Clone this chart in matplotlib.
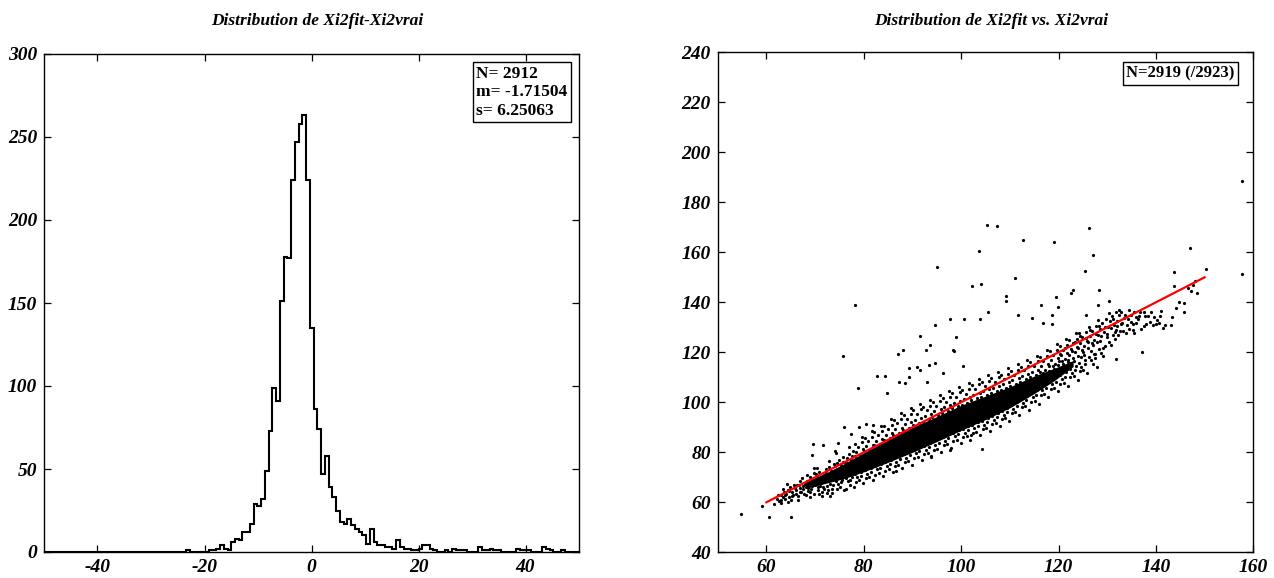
import matplotlib
matplotlib.use("Agg")
import matplotlib.pyplot as plt
import numpy as np

plt.rcParams.update({"font.family": "Liberation Serif", "font.weight": "bold",
                     "font.style": "italic", "axes.linewidth": 1.0, "axes.unicode_minus": False})

# ── données : histogramme Xi2fit - Xi2vrai (bins de 0.7 depuis -50) ───────────
BIN_LO, BIN_W = -50.0, 0.7
counts = [0] * 38 + [1] + [0] * 5 + [
    1, 1, 2, 4, 2, 1, 6, 8, 7, 12, 12, 17, 29, 28, 32, 49, 73, 99, 91,
    151, 178, 177, 224, 247, 258, 263, 224, 135, 86, 74, 47, 58, 39, 33, 25,
    18, 17, 20, 16, 14, 12, 10, 5, 14, 6, 4, 4, 3, 3, 2, 7, 3, 2, 2, 1, 1,
    2, 4, 4, 2, 1, 0, 0, 1, 0, 2, 1, 1, 1, 0, 0, 0, 3, 1, 1, 2, 1, 1, 0, 0,
    0, 0, 2, 1, 1, 1, 0, 0, 0, 3, 2, 1, 0, 0, 1, 0, 0, 0, 0]
stats_left = "N= 2912\nm= -1.71504\ns= 6.25063"

# ── données : Xi2fit vs Xi2vrai ───────────────────────────────────────────────
# zone saturée (nuage noir plein) : bords haut / bas
core_x = [68, 72, 76, 80, 85, 90, 95, 100, 105, 110, 115, 119, 123]
core_top = [68.5, 71.5, 75.5, 79.8, 85.0, 90.0, 94.3, 98.8, 102.5, 106.2, 110.5, 113.5, 116.7]
core_bot = [65.5, 67.5, 69.5, 72.2, 76.0, 80.0, 84.3, 88.8, 93.1, 97.8, 103.5, 108.5, 114.3]

cloud_pts = [
    (61.5, 59.3), (62.4, 62.8), (63.1, 60.9), (63.8, 63.0), (64.5, 60.2), (65.3, 62.6), (66.0, 63.5), (66.9, 64.3),
    (67.6, 65.2), (68.2, 63.0), (69.0, 64.2), (69.6, 69.4), (70.6, 66.3), (71.4, 62.5), (72.6, 64.8), (73.4, 63.6),
    (62.2, 61.4), (62.6, 60.6), (63.0, 63.1), (63.4, 62.0), (63.7, 64.2), (63.9, 61.2), (62.9, 59.7), (63.5, 65.3),
    (64.1, 63.3), (64.4, 65.0), (64.6, 62.1), (64.9, 66.2), (65.2, 64.0), (65.5, 63.0), (65.8, 65.6), (64.3, 67.3),
    (65.0, 61.0), (65.6, 67.0), (64.7, 64.6),
    (66.1, 64.8), (66.3, 67.1), (66.5, 62.6), (66.8, 65.7), (67.0, 68.4), (67.2, 64.0), (67.5, 66.6), (67.8, 63.2),
    (66.4, 61.0), (67.3, 69.6), (66.7, 66.8), (67.9, 67.5),
    (68.1, 66.1), (68.3, 68.6), (68.5, 64.5), (68.8, 67.4), (69.0, 70.1), (69.2, 65.3), (69.5, 68.2), (69.7, 63.4),
    (68.4, 70.9), (68.9, 62.3), (69.3, 66.7), (69.8, 71.8), (68.6, 65.9), (69.9, 67.0),
    (70.1, 67.5), (70.3, 70.2), (70.5, 65.1), (70.7, 68.9), (70.9, 72.3), (71.1, 66.4), (71.3, 69.7), (71.5, 64.0),
    (71.6, 66.0), (71.8, 71.0), (70.4, 73.9), (70.8, 63.2), (71.2, 67.9), (71.7, 68.4), (70.2, 71.5), (71.9, 65.3),
    (72.1, 68.8), (72.3, 71.9), (72.5, 66.4), (72.7, 70.2), (72.9, 74.0), (73.1, 67.5), (73.3, 72.6), (73.5, 65.2),
    (73.7, 69.6), (73.9, 75.5), (72.4, 63.9), (72.8, 76.4), (73.2, 70.9), (73.6, 67.0), (72.2, 73.4), (73.8, 71.7),
    (73.0, 62.4),
    (74.1, 74.4), (74.3, 68.7), (74.5, 75.8), (74.7, 67.2), (74.9, 77.1), (75.1, 66.3), (75.3, 74.9), (75.5, 69.0),
    (75.7, 78.3), (75.9, 64.8), (74.4, 72.5), (74.8, 70.8), (75.2, 72.9), (75.6, 71.2), (74.2, 79.6), (75.4, 68.2),
    (74.6, 65.5), (75.8, 76.0),
    (76.1, 76.3), (76.3, 69.8), (76.5, 77.9), (76.7, 68.4), (76.9, 79.5), (77.1, 67.1), (77.3, 76.8), (77.5, 70.2),
    (77.7, 80.6), (77.9, 66.0), (76.2, 74.0), (76.8, 72.1), (77.4, 74.5), (77.0, 82.3), (76.4, 65.4), (77.6, 78.4),
    (76.6, 75.9), (77.2, 69.0),
    (78.1, 78.4), (78.3, 71.3), (78.5, 80.2), (78.7, 70.0), (78.9, 82.1), (79.1, 68.9), (79.3, 79.1), (79.5, 72.0),
    (79.7, 84.0), (79.9, 67.6), (78.2, 83.3), (78.6, 73.5), (79.0, 77.5), (79.4, 70.6), (79.8, 81.3), (78.4, 68.2),
    (79.6, 86.2), (79.2, 74.3),
    (80.1, 80.5), (80.3, 72.8), (80.5, 82.4), (80.7, 71.4), (80.9, 84.5), (81.1, 70.2), (81.3, 81.1), (81.5, 73.6),
    (81.7, 86.3), (81.9, 69.1), (80.2, 85.9), (80.6, 74.9), (81.0, 79.0), (81.4, 72.2), (81.8, 83.0), (80.4, 69.8),
    (81.6, 88.4), (81.2, 76.5), (80.8, 78.4),
    (82.1, 82.8), (82.3, 74.5), (82.5, 84.6), (82.7, 73.2), (82.9, 86.9), (83.1, 71.8), (83.3, 83.4), (83.5, 75.4),
    (83.7, 88.7), (83.9, 70.6), (82.2, 88.3), (82.6, 76.6), (83.0, 81.4), (83.4, 73.9), (83.8, 85.5), (82.4, 71.0),
    (83.6, 90.6), (83.2, 78.0), (82.8, 80.1), (83.95, 82.5),
    (84.1, 85.1), (84.3, 76.0), (84.5, 87.0), (84.7, 74.6), (84.9, 89.2), (85.1, 73.2), (85.3, 85.8), (85.5, 77.1),
    (85.7, 91.1), (85.9, 72.0), (84.2, 90.5), (84.6, 78.3), (85.0, 83.5), (85.4, 75.5), (85.8, 87.6), (84.4, 72.7),
    (85.6, 93.4), (85.2, 79.6), (84.8, 81.9), (85.95, 84.9),
    (86.1, 87.1), (86.3, 77.8), (86.5, 89.4), (86.7, 76.3), (86.9, 91.6), (87.1, 74.9), (87.3, 87.9), (87.5, 78.9),
    (87.7, 93.3), (87.9, 73.6), (86.2, 92.8), (86.6, 80.1), (87.0, 85.4), (87.4, 77.2), (87.8, 89.9), (86.4, 74.4),
    (87.6, 95.8), (87.2, 81.6), (86.8, 84.0), (87.95, 86.8),
    (88.1, 89.0), (88.3, 79.3), (88.5, 91.3), (88.7, 77.8), (88.9, 93.5), (89.1, 76.4), (89.3, 89.8), (89.5, 80.5),
    (89.7, 95.4), (89.9, 75.1), (88.2, 94.9), (88.6, 81.7), (89.0, 87.3), (89.4, 78.8), (89.8, 92.0), (88.4, 76.0),
    (89.6, 97.7), (89.2, 83.4), (88.8, 85.6), (89.95, 88.6),
    (90.1, 90.8), (90.3, 81.1), (90.5, 93.1), (90.7, 79.6), (90.9, 95.3), (91.1, 78.2), (91.3, 91.7), (91.5, 82.3),
    (91.7, 97.2), (91.9, 76.9), (90.2, 96.8), (90.6, 83.5), (91.0, 89.1), (91.4, 80.6), (91.8, 93.9), (90.4, 77.8),
    (91.6, 99.5), (91.2, 85.2), (90.8, 87.4), (91.95, 90.4),
    (92.1, 92.3), (92.3, 82.6), (92.5, 94.6), (92.7, 81.1), (92.9, 96.8), (93.1, 79.7), (93.3, 93.2), (93.5, 83.8),
    (93.7, 98.7), (93.9, 78.4), (92.2, 98.3), (92.6, 85.0), (93.0, 90.6), (93.4, 82.1), (93.8, 95.4), (92.4, 79.3),
    (93.6, 101.0), (93.2, 86.7), (92.8, 88.9), (93.95, 91.9),
    (94.1, 94.1), (94.3, 84.4), (94.5, 96.4), (94.7, 82.9), (94.9, 98.6), (95.1, 81.5), (95.3, 95.0), (95.5, 85.6),
    (95.7, 100.5), (95.9, 80.2), (94.2, 100.1), (94.6, 86.8), (95.0, 92.4), (95.4, 83.9), (95.8, 97.2), (94.4, 81.1),
    (95.6, 102.8), (95.2, 88.5), (94.8, 90.7), (95.95, 93.7),
    (96.1, 95.8), (96.3, 86.1), (96.5, 98.1), (96.7, 84.6), (96.9, 100.3), (97.1, 83.2), (97.3, 96.7), (97.5, 87.3),
    (97.7, 102.2), (97.9, 81.9), (96.2, 101.8), (96.6, 88.5), (97.0, 94.1), (97.4, 85.6), (97.8, 98.9), (96.4, 82.8),
    (97.6, 104.5), (97.2, 90.2), (96.8, 92.4), (97.95, 95.4),
    (98.1, 97.6), (98.3, 87.9), (98.5, 99.9), (98.7, 86.4), (98.9, 102.1), (99.1, 85.0), (99.3, 98.5), (99.5, 89.1),
    (99.7, 104.0), (99.9, 83.7), (98.2, 103.6), (98.6, 90.3), (99.0, 95.9), (99.4, 87.4), (99.8, 100.7), (98.4, 84.6),
    (99.6, 106.3), (99.2, 92.0), (98.8, 94.2), (99.95, 97.2),
    (100.1, 99.0), (100.3, 89.3), (100.5, 101.3), (100.7, 87.8), (100.9, 103.5), (101.1, 86.4), (101.3, 99.9),
    (101.5, 90.5), (101.7, 105.4), (101.9, 85.1), (100.2, 105.0), (100.6, 91.7), (101.0, 97.3), (101.4, 88.8),
    (101.8, 102.1), (100.4, 86.0), (101.6, 107.7), (101.2, 93.4), (100.8, 95.6), (101.95, 98.6),
    (102.1, 100.8), (102.3, 91.1), (102.5, 103.1), (102.7, 89.6), (102.9, 105.3), (103.1, 88.2), (103.3, 101.7),
    (103.5, 92.3), (103.7, 107.2), (103.9, 86.9), (102.2, 106.8), (102.6, 93.5), (103.0, 99.1), (103.4, 90.6),
    (103.8, 103.9), (102.4, 87.8), (103.6, 109.5), (103.2, 95.2), (102.8, 97.4), (103.95, 100.4),
    (104.1, 102.1), (104.3, 92.6), (104.5, 104.4), (104.7, 91.1), (104.9, 106.6), (105.1, 89.7), (105.3, 103.0),
    (105.5, 93.8), (105.7, 108.5), (105.9, 88.4), (104.2, 108.1), (104.6, 95.0), (105.0, 100.6), (105.4, 92.1),
    (105.8, 105.2), (104.4, 89.3), (105.6, 110.8), (105.2, 96.7), (104.8, 98.9), (105.95, 101.9),
    (106.1, 103.6), (106.3, 94.6), (106.5, 105.9), (106.7, 93.1), (106.9, 108.1), (107.1, 91.7), (107.3, 104.5),
    (107.5, 95.8), (107.7, 110.0), (107.9, 90.4), (106.2, 109.6), (106.6, 97.0), (107.0, 102.3), (107.4, 94.1),
    (107.8, 106.7), (106.4, 91.3), (107.6, 112.3), (107.2, 98.7), (106.8, 100.6), (107.95, 103.5),
    (108.1, 105.0), (108.3, 96.6), (108.5, 107.3), (108.7, 95.1), (108.9, 109.5), (109.1, 93.7), (109.3, 105.9),
    (109.5, 97.8), (109.7, 111.4), (109.9, 92.4), (108.2, 111.0), (108.6, 99.0), (109.0, 103.7), (109.4, 96.1),
    (109.8, 108.1), (108.4, 93.3), (109.6, 113.7), (109.2, 100.7), (108.8, 102.2), (109.95, 104.8),
    (110.1, 106.6), (110.3, 99.0), (110.5, 108.9), (110.7, 97.5), (110.9, 111.1), (111.1, 96.1), (111.3, 107.5),
    (111.5, 100.2), (111.7, 113.0), (111.9, 94.8), (110.2, 112.6), (110.6, 101.4), (111.0, 105.3), (111.4, 98.5),
    (111.8, 109.7), (110.4, 95.7), (111.6, 115.3), (111.2, 102.7), (110.8, 104.1), (111.95, 106.5),
    (112.1, 108.3), (112.3, 101.3), (112.5, 110.6), (112.7, 99.8), (112.9, 112.8), (113.1, 98.4), (113.3, 109.2),
    (113.5, 102.5), (113.7, 114.7), (113.9, 97.1), (112.2, 114.3), (112.6, 103.7), (113.0, 107.0), (113.4, 100.8),
    (113.8, 111.4), (112.4, 98.0), (113.6, 117.0), (113.2, 104.6), (112.8, 106.1), (113.95, 108.4),
    (114.1, 110.0), (114.3, 103.6), (114.5, 112.3), (114.7, 102.1), (114.9, 114.5), (115.1, 100.7), (115.3, 110.9),
    (115.5, 104.8), (115.7, 116.4), (115.9, 99.4), (114.2, 116.0), (114.6, 106.0), (115.0, 108.7), (115.4, 103.1),
    (115.8, 113.1), (114.4, 100.3), (115.6, 118.7), (115.2, 106.4), (114.8, 107.9), (115.95, 110.3),
    (116.1, 112.1), (116.3, 106.3), (116.5, 114.4), (116.7, 104.8), (116.9, 116.6), (117.1, 103.4), (117.3, 113.0),
    (117.5, 107.5), (117.7, 118.5), (117.9, 102.1), (116.2, 118.1), (116.6, 108.7), (117.0, 110.8), (117.4, 105.8),
    (117.8, 115.2), (116.4, 103.0), (117.6, 120.8), (117.2, 109.6), (116.8, 111.9), (117.95, 112.5), (116.0, 109.0),
    (118.1, 114.6), (118.3, 108.8), (118.5, 116.9), (118.7, 107.3), (118.9, 119.1), (119.1, 105.9), (119.3, 115.5),
    (119.5, 110.0), (119.7, 121.0), (119.9, 104.6), (118.2, 120.6), (118.6, 111.2), (119.0, 113.3), (119.4, 108.3),
    (119.8, 117.7), (118.4, 105.5), (119.6, 123.3), (119.2, 112.1), (118.8, 114.4), (119.95, 115.0), (118.0, 111.5),
    (120.1, 116.6), (120.3, 110.8), (120.5, 118.9), (120.7, 109.3), (120.9, 121.1), (121.1, 107.9), (121.3, 117.5),
    (121.5, 112.0), (121.7, 123.0), (121.9, 106.6), (120.2, 122.6), (120.6, 113.2), (121.0, 115.3), (121.4, 110.3),
    (121.8, 119.7), (120.4, 107.5), (121.6, 125.3), (121.2, 114.1), (120.8, 116.4), (121.95, 117.0),
    (122.1, 119.1), (122.3, 113.3), (122.5, 121.4), (122.7, 111.8), (122.9, 123.6), (123.1, 110.4), (123.3, 120.0),
    (123.5, 114.5), (123.7, 125.5), (123.9, 109.1), (122.2, 125.1), (122.6, 115.7), (123.0, 117.8), (123.4, 112.8),
    (123.8, 122.2), (122.4, 110.0), (123.6, 127.8), (123.2, 116.6),
    (124.1, 121.6), (124.3, 115.8), (124.5, 123.9), (124.7, 114.3), (124.9, 126.1), (125.1, 112.9), (125.3, 122.5),
    (125.5, 117.0), (125.7, 128.0), (125.9, 111.6), (124.2, 127.6), (124.6, 118.2), (125.0, 120.3), (125.4, 115.3),
    (125.8, 124.7), (124.4, 112.5),
    (126.1, 124.1), (126.3, 118.3), (126.5, 126.4), (126.7, 116.8), (126.9, 128.6), (127.1, 115.4), (127.3, 125.0),
    (127.5, 119.5), (127.7, 130.5), (127.9, 114.1), (126.2, 130.1), (126.6, 120.7), (127.0, 122.8), (127.4, 117.8),
    (128.1, 127.1), (128.3, 121.3), (128.5, 129.4), (128.7, 119.8), (128.9, 131.6), (129.1, 118.4), (129.3, 128.0),
    (129.5, 122.5), (129.7, 133.5), (129.9, 126.3), (128.2, 133.1), (128.6, 124.7),
    (130.1, 130.1), (130.3, 124.3), (130.5, 132.4), (130.7, 122.8), (130.9, 134.6), (131.1, 126.9), (131.3, 131.0),
    (131.5, 125.5), (131.7, 136.0), (131.9, 129.1),
    (132.1, 132.6), (132.3, 126.8), (132.5, 134.9), (132.7, 128.7), (132.9, 136.1), (133.1, 131.9), (133.4, 133.6),
    (133.8, 127.9), (134.2, 133.4), (134.5, 129.3), (134.9, 135.0), (135.3, 131.5), (135.6, 127.8), (135.9, 134.0),
    (136.3, 133.2), (136.8, 136.0), (137.5, 130.6), (137.8, 134.5),
    (138.3, 134.5), (138.8, 132.2), (139.4, 131.0), (139.7, 134.0), (140.0, 131.3), (140.3, 133.0), (140.6, 131.9),
    (141.0, 136.6), (141.5, 129.8), (141.9, 131.0),
    (120.3, 119.5), (120.9, 113.0), (121.4, 121.8), (122.0, 116.2), (122.8, 120.7), (123.3, 124.0), (123.9, 118.4),
    (124.4, 126.6), (124.8, 121.0), (125.2, 118.9), (125.6, 125.9), (126.0, 121.7), (126.4, 128.9), (126.8, 123.6),
    (127.2, 119.2), (127.6, 127.3), (128.0, 124.0), (128.4, 130.7), (128.8, 126.5), (129.2, 121.9), (129.6, 130.2),
    (130.0, 127.4), (130.4, 135.6), (130.8, 129.6), (131.2, 133.3), (131.6, 128.0), (132.0, 130.4), (132.4, 137.1),
    (132.8, 131.5), (133.2, 128.4), (133.6, 135.1), (134.0, 131.0), (134.4, 136.8), (134.8, 132.3), (135.2, 129.0),
    (135.6, 136.3), (136.0, 131.7), (136.6, 134.6), (137.0, 129.5), (138.0, 131.4), (139.0, 136.1), (140.8, 134.4),
]

outlier_pts = [
    (54.7, 55.2), (59.2, 58.4), (60.6, 54.0), (65.0, 54.0), (69.5, 83.2), (69.3, 78.8), (69.7, 73.6), (71.6, 82.9),
    (74.0, 80.4), (74.7, 83.7), (75.9, 90.0), (75.8, 118.7), (77.3, 87.2), (78.8, 105.6), (78.3, 139.0), (79.0, 90.2),
    (80.5, 91.2), (81.8, 90.8), (82.7, 110.7), (84.3, 110.7), (84.7, 103.6), (86.6, 72.7), (87.2, 108.0),
    (87.0, 119.5), (88.0, 121.0), (89.2, 113.6), (89.3, 110.0), (91.0, 114.0), (91.6, 113.0), (92.8, 121.0),
    (92.9, 108.0), (93.4, 115.0), (94.6, 115.6), (93.8, 78.3), (95.0, 154.0), (96.2, 111.6), (97.7, 81.0),
    (98.6, 120.5), (98.3, 120.8), (100.4, 114.5), (102.0, 87.0), (104.2, 81.3), (97.7, 133.3), (102.3, 146.5),
    (103.6, 160.5), (104.0, 147.2), (103.9, 133.2), (105.4, 171.0), (107.4, 170.5), (109.2, 140.5), (109.3, 142.5),
    (111.0, 149.7), (111.6, 134.9), (112.7, 164.9), (114.5, 133.8), (116.5, 138.8), (118.6, 134.8), (118.6, 131.3),
    (119.0, 164.0), (119.4, 142.2), (119.8, 138.0), (122.6, 143.6), (122.9, 145.0), (125.5, 152.4), (125.7, 134.8),
    (126.2, 169.6), (127.0, 158.8), (128.1, 138.8), (128.4, 144.9), (130.4, 140.4), (131.8, 117.3), (137.2, 120.0),
    (137.5, 136.0), (143.0, 130.8), (143.4, 134.0), (143.8, 152.0), (143.8, 146.5), (144.2, 137.7), (144.7, 140.0),
    (145.7, 139.6), (145.7, 136.0), (146.5, 145.8), (147.0, 161.6), (147.2, 144.5), (147.7, 147.0), (148.0, 148.5),
    (148.4, 143.9), (150.3, 153.3), (157.7, 188.5), (157.7, 151.3), (94.7, 130.9), (93.6, 123.1), (88.5, 107.7),
    (116.9, 131.6), (100.5, 133.5), (105.5, 136.0), (99.0, 126.0), (91.5, 126.5),
]
line_x = [60, 150]
line_y = [60, 150]
stats_right = "N=2919 (/2923)"

TICK = dict(direction="in", length=5, width=0.9, top=True, right=True, labelsize=14, pad=5)
BOX = dict(boxstyle="square,pad=0.2", facecolor="white", edgecolor="black", linewidth=1.0)

fig = plt.figure(figsize=(12.74, 5.78), dpi=100)

# ── 1. histogramme ───────────────────────────────────────────────────────────
ax1 = fig.add_axes([44 / 1274, 26 / 578, 535 / 1274, 498 / 578])
edges = BIN_LO + BIN_W * np.arange(len(counts) + 1)
ax1.stairs(counts, edges, color="black", linewidth=1.5)
ax1.set_xlim(-50, 50); ax1.set_ylim(0, 300)
ax1.set_xticks([-40, -20, 0, 20, 40]); ax1.set_yticks(range(0, 301, 50))
ax1.tick_params(**TICK)
ax1.text(0.978, 0.976, stats_left, transform=ax1.transAxes, ha="right", va="top", multialignment="left",
         fontsize=12.5, fontstyle="normal", linespacing=1.2, bbox=BOX)
fig.text(317 / 1274, 1 - 21 / 578, "Distribution de Xi2fit-Xi2vrai", ha="center", va="center", fontsize=12.5)

# ── 2. nuage Xi2fit vs Xi2vrai ───────────────────────────────────────────────
ax2 = fig.add_axes([717.7 / 1274, 25.7 / 578, 535.6 / 1274, 500 / 578])
ax2.fill_between(core_x, core_bot, core_top, color="black", linewidth=0, zorder=2)
for pts in (cloud_pts, outlier_pts):
    px, py = zip(*pts)
    ax2.plot(px, py, "o", color="black", markersize=2.3, markeredgewidth=0, zorder=3)
ax2.plot(line_x, line_y, color="red", linewidth=1.6, zorder=4)
ax2.set_xlim(50, 160); ax2.set_ylim(40, 240)
ax2.set_xticks(range(60, 161, 20)); ax2.set_yticks(range(40, 241, 20))
ax2.tick_params(**TICK)
ax2.text(0.965, 0.974, stats_right, transform=ax2.transAxes, ha="right", va="top",
         fontsize=12, fontstyle="normal", bbox=BOX)
fig.text(991 / 1274, 1 - 21 / 578, "Distribution de Xi2fit vs. Xi2vrai", ha="center", va="center", fontsize=12.5)

fig.savefig("out.png", dpi=100)
